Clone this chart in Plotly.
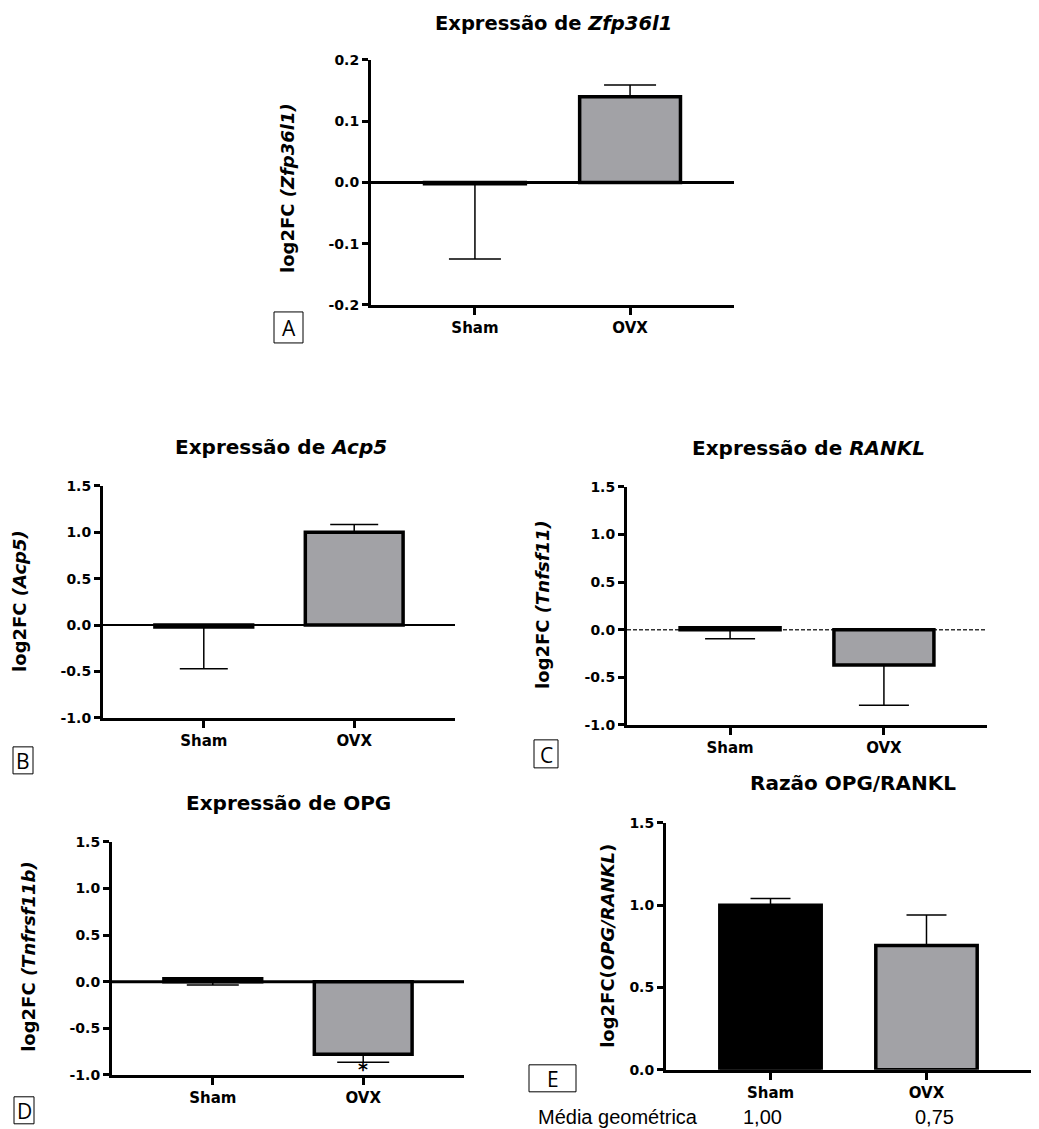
import plotly.graph_objects as go

# Measured placement of the figure inside the photographed page:
# screen_x = 8 + fig_x ; screen_y = 16 + 0.986 * fig_y
WIN_W, WIN_H = 1039, 1129
X_OFF, Y_OFF, Y_SCALE = 7, 16, 0.986
W, H = WIN_W - 16, WIN_H

groups = ["Sham", "OVX"]

# Panel A - Zfp36l1
a_vals = [-0.002, 0.140]
a_err_plus = [0.0, 0.019]
a_err_minus = [0.123, 0.0]
a_ticks = [-0.2, -0.1, 0.0, 0.1, 0.2]

# Panel B - Acp5
b_vals = [-0.02, 1.0]
b_err_plus = [0.0, 0.085]
b_err_minus = [0.45, 0.0]
b_ticks = [-1.0, -0.5, 0.0, 0.5, 1.0, 1.5]

# Panel C - RANKL (Tnfsf11)
c_vals = [0.02, -0.37]
c_err_plus = [0.0, 0.0]
c_err_minus = [0.115, 0.425]
c_ticks = [-1.0, -0.5, 0.0, 0.5, 1.0, 1.5]

# Panel D - OPG (Tnfrsf11b)
d_vals = [0.03, -0.78]
d_err_plus = [0.0, 0.0]
d_err_minus = [0.065, 0.085]
d_ticks = [-1.0, -0.5, 0.0, 0.5, 1.0, 1.5]

# Panel E - OPG/RANKL ratio
e_vals = [1.0, 0.755]
e_err_plus = [0.04, 0.185]
e_err_minus = [0.0, 0.0]
e_ticks = [0.0, 0.5, 1.0, 1.5]
geo_means = ["1,00", "0,75"]

GREY = "#A2A2A6"
BOLD = "DejaVu Sans"
REG = "Liberation Sans"


def px_x(p):
    return min(1.0, max(0.0, (p - X_OFF) / W))


def px_y(p):
    return min(1.0, max(0.0, 1 - ((p - Y_OFF) / Y_SCALE) / H))


panels = [
    dict(vals=a_vals, ep=a_err_plus, em=a_err_minus, ticks=a_ticks, yr=[-0.2, 0.2],
         xd=(370, 733), yd=(60, 305), colors=[GREY, GREY], cap=26, zero=("solid", 3)),
    dict(vals=b_vals, ep=b_err_plus, em=b_err_minus, ticks=b_ticks, yr=[-1.0, 1.5],
         xd=(102, 454), yd=(486, 718), colors=[GREY, GREY], cap=24, zero=("solid", 2)),
    dict(vals=c_vals, ep=c_err_plus, em=c_err_minus, ticks=c_ticks, yr=[-1.0, 1.5],
         xd=(626, 986), yd=(487, 725), colors=[GREY, GREY], cap=25, zero=("dash", 1.5)),
    dict(vals=d_vals, ep=d_err_plus, em=d_err_minus, ticks=d_ticks, yr=[-1.0, 1.5],
         xd=(111, 463), yd=(842, 1075), colors=[GREY, GREY], cap=26, zero=("solid", 3)),
    dict(vals=e_vals, ep=e_err_plus, em=e_err_minus, ticks=e_ticks, yr=[0.0, 1.5],
         xd=(665, WIN_W), yd=(823, 1070), colors=["#000000", GREY], cap=20, zero=None),
]

fig = go.Figure()
layout = dict(
    width=W, height=H, margin=dict(l=0, r=0, t=0, b=0),
    paper_bgcolor="white", plot_bgcolor="white", showlegend=False,
)
shapes = []

for i, p in enumerate(panels, start=1):
    sfx = "" if i == 1 else str(i)
    xa, ya = "x" + sfx, "y" + sfx
    fig.add_trace(go.Bar(
        x=groups, y=p["vals"], xaxis=xa, yaxis=ya, width=0.65,
        marker=dict(color=p["colors"], line=dict(color="black", width=3.5)),
        error_y=dict(type="data", symmetric=False, array=p["ep"], arrayminus=p["em"],
                     color="black", thickness=1.5, width=p["cap"]),
        hoverinfo="skip",
    ))
    layout["xaxis" + sfx] = dict(
        domain=[px_x(p["xd"][0]), px_x(p["xd"][1])], anchor=ya, type="category",
        range=[-0.67, 1.67], showline=True, linecolor="black", linewidth=3,
        ticks="outside", ticklen=7, tickwidth=3, tickcolor="black",
        showgrid=False, zeroline=False,
        tickfont=dict(family=BOLD, size=15, color="black", weight="bold"),
    )
    layout["yaxis" + sfx] = dict(
        domain=[px_y(p["yd"][1]), px_y(p["yd"][0])], anchor=xa,
        range=p["yr"], showline=True, linecolor="black", linewidth=3,
        ticks="outside", ticklen=6, tickwidth=3, tickcolor="black",
        tickvals=p["ticks"], ticktext=[f"{v:.1f}" for v in p["ticks"]],
        showgrid=False, zeroline=False,
        tickfont=dict(family=BOLD, size=14, color="black", weight="bold"),
    )
    if p["zero"] is not None:
        dash, wdt = p["zero"]
        shapes.append(dict(type="line", xref=xa + " domain", yref=ya, x0=0, x1=1, y0=0, y1=0,
                           line=dict(color="#333333" if dash == "dash" else "black",
                                     width=wdt, dash="4px,2px" if dash == "dash" else "solid"),
                           layer="below"))

annotations = []


def ann(text, x, y, size, family=BOLD, angle=0, xanchor="center", bold=True, **kw):
    annotations.append(dict(
        text=text, x=px_x(x), y=px_y(y), xref="paper", yref="paper",
        showarrow=False, textangle=angle, xanchor=xanchor, yanchor="middle",
        font=dict(family=family, size=size, color="black", weight="bold" if bold else "normal"),
        **kw))


# Titles
ann("Expressão de <i>Zfp36l1</i>", 552, 24, 19.5)
ann("Expressão de <i>Acp5</i>", 280, 447, 20)
ann("Expressão de <i>RANKL</i>", 807, 448, 20)
ann("Expressão de OPG", 287, 803, 20)
ann("Razão OPG/RANKL", 852, 783, 20)

# Y axis titles
ann("log2FC <i>(Zfp36l1)</i>", 287, 188, 18, angle=-90)
ann("log2FC <i>(Acp5)</i>", 19, 601, 18, angle=-90)
ann("log2FC <i>(Tnfsf11)</i>", 542, 605, 18, angle=-90)
ann("log2FC <i>(Tnfrsf11b)</i>", 28, 957, 18, angle=-90)
ann("log2FC(<i>OPG/RANKL</i>)", 607, 946, 18, angle=-90)

# Significance marker
annotations.append(dict(text="<b>*</b>", x="OVX", y=-0.94, xref="x4", yref="y4", showarrow=False,
                        yanchor="middle", font=dict(family=BOLD, size=19, color="black")))

# Geometric mean row
ann("Média geométrica", 535, 1117, 20, family=REG, xanchor="left", bold=False)
ann(geo_means[0], 761, 1117, 20, family=REG, bold=False)
ann(geo_means[1], 933, 1117, 20, family=REG, bold=False)

# Panel letter boxes
boxes = [("A", 273, 312, 302, 343), ("B", 12, 747, 32, 774), ("C", 533, 740, 557, 768),
         ("D", 13, 1097, 33, 1124), ("E", 528, 1065, 575, 1092)]
for letter, x0, y0, x1, y1 in boxes:
    shapes.append(dict(type="rect", xref="paper", yref="paper",
                       x0=px_x(x0), x1=px_x(x1), y0=px_y(y1), y1=px_y(y0),
                       line=dict(color="black", width=1), fillcolor="rgba(0,0,0,0)"))
    ann(letter, (x0 + x1) / 2, (y0 + y1) / 2 + 1, 21, family="Open Sans", bold=False)

layout["shapes"] = shapes
layout["annotations"] = annotations
fig.update_layout(**layout)

fig.write_html("out.html")
